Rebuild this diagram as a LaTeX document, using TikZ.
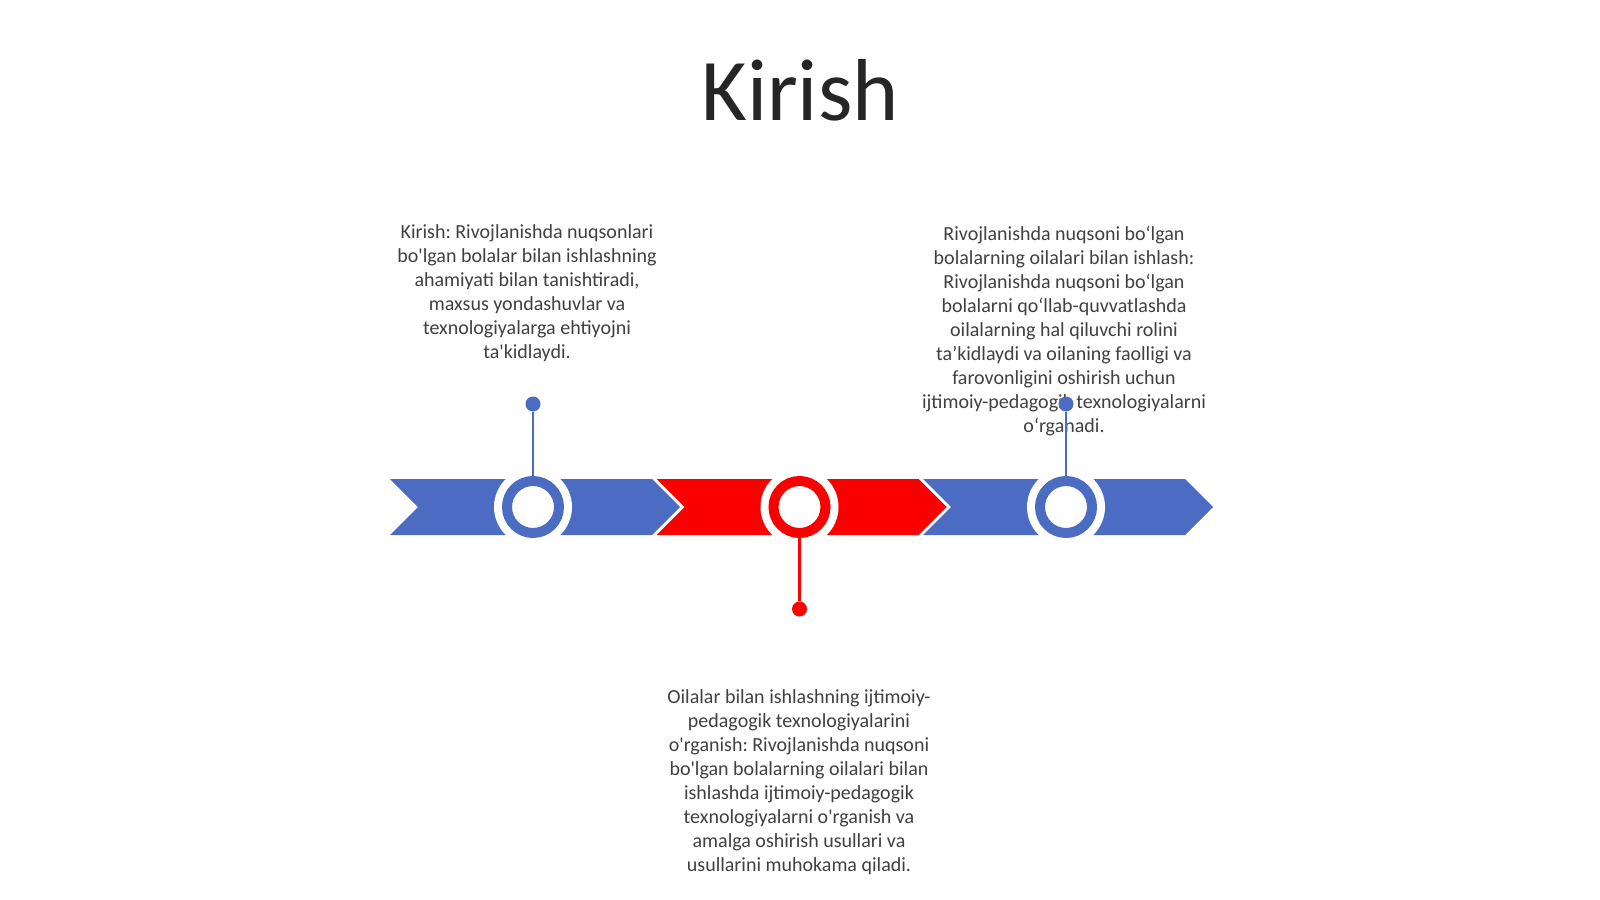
\documentclass[tikz,border=0pt]{standalone}
\usepackage{fontspec}
\setmainfont{Carlito}[Ligatures=TeXOff]
\usepackage{tikz}
\definecolor{timeline_blue}{RGB}{76, 108, 196}
\definecolor{timeline_red}{RGB}{250, 0, 0}
\definecolor{body_text}{RGB}{64, 64, 64}
\definecolor{title_text}{RGB}{38, 38, 38}
\frenchspacing

\begin{document}
\begin{tikzpicture}[x=1pt, y=-1pt,
  ring/.style={circle, minimum size=52pt, inner sep=0, line width=10pt, fill=white},
  pin/.style={circle, minimum size=15pt, inner sep=0},
  stem/.style={line width=2.5pt},
  textblock/.style={anchor=north, align=center, inner sep=0, text=body_text,
    font=\fontsize{20}{24}\selectfont}]
\useasboundingbox (0, 0) rectangle (1600, 899);

\node[anchor=base, text=title_text, font=\fontsize{88}{100}\selectfont] (title) at (800, 120) {Kirish};

\node[textblock] (intro_text) at (527, 224) {Kirish: Rivojlanishda nuqsonlari\\
  bo'lgan bolalar bilan ishlashning\\ ahamiyati bilan tanishtiradi,\\
  maxsus yondashuvlar va\\ texnologiyalarga ehtiyojni\\ ta'kidlaydi.};
\node[textblock] (family_text) at (1064, 226) {Rivojlanishda nuqsoni bo‘lgan\\
  bolalarning oilalari bilan ishlash:\\ Rivojlanishda nuqsoni bo‘lgan\\
  bolalarni qo‘llab-quvvatlashda\\ oilalarning hal qiluvchi rolini\\
  ta’kidlaydi va oilaning faolligi va\\ farovonligini oshirish uchun\\
  ijtimoiy-pedagogik texnologiyalarni\\ o‘rganadi.};
\node[textblock] (method_text) at (799, 689) {Oilalar bilan ishlashning ijtimoiy-\\
  pedagogik texnologiyalarini\\ o'rganish: Rivojlanishda nuqsoni\\
  bo'lgan bolalarning oilalari bilan\\ ishlashda ijtimoiy-pedagogik\\
  texnologiyalarni o'rganish va\\ amalga oshirish usullari va\\
  usullarini muhokama qiladi.};

% arrow band
\foreach \i/\col in {0/timeline_blue, 1/timeline_red, 2/timeline_blue}
  \fill[\col] ({390+266.5*\i}, 479) -- ++(262, 0) -- ++(28, 28) -- ++(-28, 28)
    -- ++(-262, 0) -- ++(28, -28) -- cycle;

% rings and pins
\foreach \i/\col/\py in {0/timeline_blue/404, 1/timeline_red/609, 2/timeline_blue/404} {
  \fill[white] ({533+266.5*\i}, 507) circle (39pt);
  \node[ring, draw=\col] (ring\i) at ({533+266.5*\i}, 507) {};
  \node[pin, fill=\col] (pin\i) at ({533+266.5*\i}, \py) {};
  \draw[stem, \col] (ring\i) -- (pin\i);
}
\end{tikzpicture}
\end{document}
